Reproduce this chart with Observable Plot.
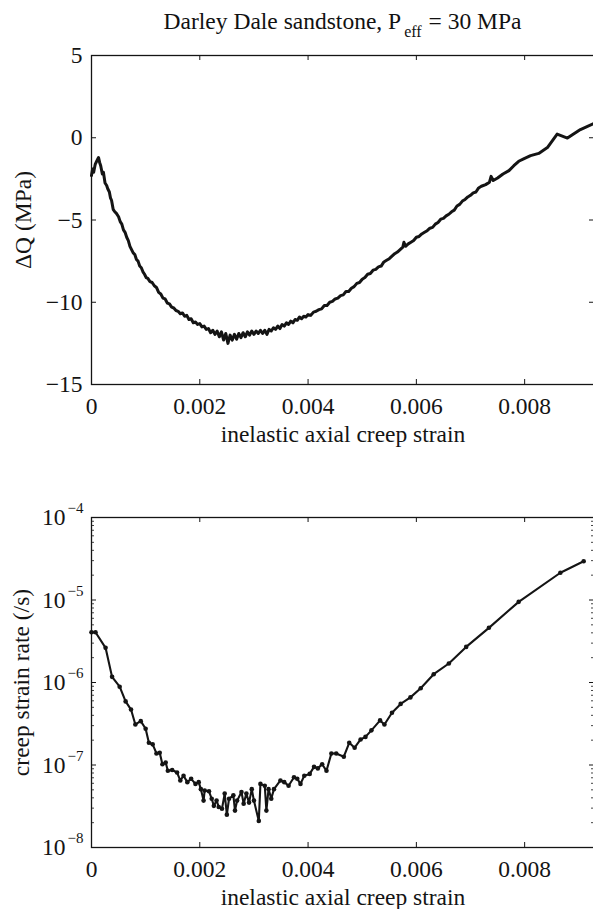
<!DOCTYPE html>
<html>
<head>
<meta charset="utf-8">
<script src="https://cdn.jsdelivr.net/npm/d3@7"></script>
<script src="https://cdn.jsdelivr.net/npm/@observablehq/plot@0.6"></script>
<style>
  html, body { margin: 0; padding: 0; background: #fff; overflow: hidden; }
  #wrap { position: relative; width: 593px; height: 909px; overflow: hidden; background: #fff; }
  #title { position: absolute; left: 91px; width: 503px; top: 10px; text-align: center;
           font-family: "Liberation Serif", "Times New Roman", serif; font-size: 23.5px; line-height: 23px; color: #111; white-space: nowrap; }
  #title .sub { font-size: 16px; position: relative; top: 8px; margin-left: 3px; margin-right: 1px; }
  #p1, #p2 { position: absolute; left: 0; }
  #p1 { top: 0; }
  #p2 { top: 460px; }
</style>
</head>
<body>
<div id="wrap">
  <div id="p1"></div>
  <div id="p2"></div>
  <div id="title">Darley Dale sandstone, P<span class="sub">eff</span> = 30 MPa</div>
</div>
<script>
// ---------- data ----------
const xTicks = [0, 0.002, 0.004, 0.006, 0.008];
const xTickLabels = ["0", "0.002", "0.004", "0.006", "0.008"];
const dqTicks = [-15, -10, -5, 0, 5];
const dqTickLabels = ["−15", "−10", "−5", "0", "5"];
const rateExponents = [-8, -7, -6, -5, -4];
const rateMinorMultipliers = [2, 3, 4, 5, 6, 7, 8, 9];

const xLabel = "inelastic axial creep strain";
const dqLabel = "ΔQ (MPa)";
const rateLabel = "creep strain rate (/s)";

// top panel: ΔQ vs inelastic strain
const strainQ = [0, 0.00002, 0.00004, 0.00007, 0.0001, 0.00013, 0.00015, 0.00017, 0.0002, 0.00022,
  0.00025, 0.00028, 0.0003, 0.00033, 0.00035, 0.00037, 0.0004, 0.00043, 0.00046, 0.0005,
  0.00053, 0.00056, 0.00059, 0.00062, 0.00065, 0.00068, 0.00071, 0.00074, 0.00077, 0.0008,
  0.00083, 0.00086, 0.00089, 0.00092, 0.00095, 0.00098, 0.00101, 0.00104, 0.00108, 0.00112,
  0.00116, 0.0012, 0.00124, 0.00128, 0.00132, 0.00136, 0.0014, 0.00144, 0.00148, 0.00152,
  0.00156, 0.0016, 0.00164, 0.00168, 0.00172, 0.00176, 0.0018, 0.00184, 0.00188, 0.00192,
  0.00196, 0.002, 0.00204, 0.00208, 0.00212, 0.00216, 0.0022, 0.00224, 0.00228, 0.00232,
  0.00236, 0.0024, 0.00244, 0.00248, 0.00252, 0.00256, 0.0026, 0.00264, 0.00268, 0.00272,
  0.00276, 0.0028, 0.00284, 0.00288, 0.00292, 0.00296, 0.003, 0.00304, 0.00308, 0.00312,
  0.00316, 0.0032, 0.00324, 0.00328, 0.00332, 0.00336, 0.0034, 0.00344, 0.00348, 0.00352,
  0.00356, 0.0036, 0.00364, 0.00368, 0.00372, 0.00376, 0.0038, 0.00384, 0.00388, 0.00392,
  0.00396, 0.004, 0.00405, 0.0041, 0.00415, 0.0042, 0.00425, 0.0043, 0.00435, 0.0044,
  0.00445, 0.0045, 0.00455, 0.0046, 0.00465, 0.0047, 0.00475, 0.0048, 0.00485, 0.0049,
  0.00495, 0.005, 0.00505, 0.0051, 0.00515, 0.0052, 0.00525, 0.0053, 0.00535, 0.0054,
  0.00545, 0.0055, 0.00555, 0.0056, 0.00565, 0.0057, 0.00575, 0.00577, 0.0058, 0.00585,
  0.0059, 0.00595, 0.006, 0.00605, 0.0061, 0.00615, 0.0062, 0.00625, 0.0063, 0.00635,
  0.0064, 0.00645, 0.0065, 0.00655, 0.0066, 0.00665, 0.0067, 0.00675, 0.0068, 0.00685,
  0.0069, 0.00695, 0.007, 0.00705, 0.0071, 0.00715, 0.0072, 0.00728, 0.00735, 0.00738,
  0.00742, 0.0075, 0.0076, 0.00771, 0.0078, 0.00789, 0.008, 0.00811, 0.00826, 0.00842,
  0.0086, 0.00879, 0.00903, 0.00928];
const deltaQ = [-2.3, -1.9, -2.1, -1.6, -1.4, -1.2, -1.5, -1.7, -2.2, -2.1,
  -2.75, -2.9, -3.1, -3.3, -3.65, -3.8, -4.35, -4.5, -4.6, -4.8,
  -5.1, -5.25, -5.6, -5.75, -6.05, -6.25, -6.6, -6.8, -7.0, -7.1,
  -7.4, -7.5, -7.8, -7.9, -8.15, -8.3, -8.5, -8.55, -8.75, -8.8,
  -9.0, -9.1, -9.4, -9.5, -9.75, -9.8, -10.05, -10.1, -10.3, -10.35,
  -10.5, -10.55, -10.7, -10.65, -10.85, -10.8, -11.05, -11.0, -11.25, -11.2,
  -11.35, -11.3, -11.5, -11.45, -11.65, -11.6, -11.85, -11.7, -11.95, -11.75,
  -12.1, -11.8, -12.3, -11.9, -12.5, -12.0, -12.3, -11.95, -12.25, -11.9,
  -12.15, -11.85, -12.1, -11.8, -12.0, -11.75, -11.95, -11.75, -11.9, -11.7,
  -11.9, -11.7, -11.95, -11.65, -11.75, -11.55, -11.65, -11.45, -11.6, -11.35,
  -11.45, -11.25, -11.35, -11.15, -11.25, -11.05, -11.1, -10.9, -11.0, -10.85,
  -10.9, -10.75, -10.8, -10.6, -10.55, -10.45, -10.4, -10.2, -10.2, -10.0,
  -9.95, -9.8, -9.75, -9.6, -9.55, -9.35, -9.35, -9.15, -9.05, -8.85,
  -8.8, -8.6, -8.5, -8.3, -8.25, -8.05, -8.0, -7.85, -7.8, -7.55,
  -7.45, -7.35, -7.2, -7.05, -6.95, -6.8, -6.65, -6.35, -6.6, -6.45,
  -6.35, -6.25, -6.05, -6.0, -5.85, -5.75, -5.65, -5.5, -5.45, -5.25,
  -5.15, -4.95, -4.9, -4.75, -4.65, -4.5, -4.4, -4.15, -4.05, -3.85,
  -3.75, -3.6, -3.5, -3.35, -3.3, -3.05, -2.95, -2.85, -2.7, -2.35,
  -2.6, -2.45, -2.2, -2.0, -1.7, -1.43, -1.25, -1.09, -0.95, -0.6,
  0.22, -0.02, 0.5, 0.87];

// bottom panel: creep strain rate vs inelastic strain
const strainR = [0, 0.000074, 0.00026, 0.00038, 0.00052, 0.00063, 0.00073, 0.00081, 0.00091, 0.001,
  0.00106, 0.00113, 0.0012, 0.00126, 0.00131, 0.00137, 0.00141, 0.00149, 0.00158, 0.00164,
  0.0017, 0.00177, 0.00184, 0.00192, 0.00198, 0.00202, 0.00207, 0.00209, 0.00217, 0.00222,
  0.00226, 0.00231, 0.00235, 0.00241, 0.00246, 0.0025, 0.00254, 0.00262, 0.00265, 0.00269,
  0.00277, 0.00281, 0.00286, 0.00291, 0.00296, 0.003, 0.00309, 0.00312, 0.0032, 0.00323,
  0.00327, 0.00332, 0.00337, 0.00349, 0.00356, 0.00364, 0.00374, 0.0038, 0.00386, 0.00393,
  0.00403, 0.00411, 0.00418, 0.00426, 0.00434, 0.00443, 0.00452, 0.00466, 0.00476, 0.00486,
  0.00497, 0.00506, 0.00517, 0.00533, 0.00541, 0.00555, 0.00571, 0.00589, 0.00608, 0.00632,
  0.0066, 0.00692, 0.00734, 0.00789, 0.00866, 0.00909];
const strainRate = [4.07e-6, 4.07e-6, 2.63e-6, 1.17e-6, 8.9e-7, 5.9e-7, 4.7e-7, 3.1e-7, 3.4e-7, 2.75e-7,
  1.86e-7, 1.78e-7, 1.38e-7, 1.41e-7, 1.02e-7, 1.07e-7, 8.5e-8, 8.7e-8, 8.1e-8, 6.5e-8,
  7.4e-8, 6.2e-8, 6.8e-8, 5.9e-8, 6.2e-8, 5.1e-8, 3.7e-8, 4.9e-8, 4.8e-8, 3.9e-8,
  3.2e-8, 3.7e-8, 3.1e-8, 2.95e-8, 4.5e-8, 2.5e-8, 3.9e-8, 4.3e-8, 2.8e-8, 3.7e-8,
  4.7e-8, 3.4e-8, 4.5e-8, 3.5e-8, 5.1e-8, 3.7e-8, 2.1e-8, 5.9e-8, 5.6e-8, 2.8e-8,
  5.1e-8, 3.9e-8, 5.1e-8, 6.5e-8, 6.2e-8, 5.6e-8, 7.1e-8, 6.8e-8, 5.9e-8, 7.4e-8,
  7.8e-8, 9.5e-8, 9.1e-8, 1.02e-7, 8.5e-8, 1.38e-7, 1.38e-7, 1.26e-7, 1.86e-7, 1.62e-7,
  2.04e-7, 2.19e-7, 2.63e-7, 3.47e-7, 3.1e-7, 4.3e-7, 5.5e-7, 6.6e-7, 8.5e-7, 1.26e-6,
  1.7e-6, 2.7e-6, 4.6e-6, 9.5e-6, 2.14e-5, 2.95e-5];

// ---------- layout ----------
const W = 594, ML = 91, MR = 0;
const innerW = W - ML - MR;
const ink = "#141414";
const FS = 23.5;
const font = {fontFamily: "'Liberation Serif', 'Times New Roman', serif", fontSize: FS + "px", color: ink, background: "transparent", maxWidth: "none", overflow: "visible"};
const TK = 5, TKm = 3;

const qData = strainQ.map((x, i) => ({x, y: deltaQ[i]}));
const rData = strainR.map((x, i) => ({x, y: strainRate[i]}));
const xFmt = d => xTickLabels[xTicks.indexOf(d)];

// top panel
{
  const H = 460, MT = 55, MB = 76;
  const innerH = H - MT - MB;
  const p = Plot.plot({
    width: W, height: H, marginLeft: ML, marginRight: MR, marginTop: MT, marginBottom: MB,
    style: font,
    x: {domain: [0, 0.00929], ticks: xTicks, tickFormat: xFmt, tickSize: 0, tickPadding: 13, label: null},
    y: {domain: [-15, 5], ticks: dqTicks, tickFormat: d => dqTickLabels[dqTicks.indexOf(d)], tickSize: 0, tickPadding: 9, label: null},
    marks: [
      Plot.line(qData, {x: "x", y: "y", stroke: ink, strokeWidth: 3, strokeLinejoin: "round"}),
      Plot.ruleX(xTicks, {x: d => d, insetTop: innerH - TK, stroke: ink, strokeWidth: 1}),
      Plot.ruleX(xTicks, {x: d => d, insetBottom: innerH - TK, stroke: ink, strokeWidth: 1}),
      Plot.ruleY(dqTicks, {y: d => d, insetRight: innerW - TK, stroke: ink, strokeWidth: 1}),
      Plot.ruleY(dqTicks, {y: d => d, insetLeft: innerW - TK, stroke: ink, strokeWidth: 1}),
      Plot.frame({stroke: ink, strokeWidth: 1.3}),
      Plot.text([xLabel], {frameAnchor: "bottom", lineAnchor: "bottom", textAnchor: "middle", dy: 57, fill: ink, fontSize: FS}),
      Plot.text([dqLabel], {frameAnchor: "left", lineAnchor: "middle", textAnchor: "middle", dx: -68, rotate: -90, fill: ink, fontSize: FS})
    ]
  });
  document.getElementById("p1").appendChild(p);
}

// bottom panel
{
  const H = 449, MT = 57, MB = 62;
  const innerH = H - MT - MB;
  const majors = rateExponents.map(e => Math.pow(10, e));
  const minors = rateExponents.slice(0, -1).flatMap(e => rateMinorMultipliers.map(m => m * Math.pow(10, e)));
  const p = Plot.plot({
    width: W, height: H, marginLeft: ML, marginRight: MR, marginTop: MT, marginBottom: MB,
    style: font,
    x: {domain: [0, 0.00929], ticks: xTicks, tickFormat: xFmt, tickSize: 0, tickPadding: 13, label: null},
    y: {type: "log", domain: [1e-8, 1e-4], axis: null},
    marks: [
      Plot.line(rData, {x: "x", y: "y", stroke: ink, strokeWidth: 2.1, strokeLinejoin: "round"}),
      Plot.dot(rData, {x: "x", y: "y", r: 2.3, fill: ink, stroke: null}),
      Plot.ruleX(xTicks, {x: d => d, insetTop: innerH - TK, stroke: ink, strokeWidth: 1}),
      Plot.ruleX(xTicks, {x: d => d, insetBottom: innerH - TK, stroke: ink, strokeWidth: 1}),
      Plot.ruleY(majors, {y: d => d, insetRight: innerW - TK, stroke: ink, strokeWidth: 1}),
      Plot.ruleY(majors, {y: d => d, insetLeft: innerW - TK, stroke: ink, strokeWidth: 1}),
      Plot.ruleY(minors, {y: d => d, insetRight: innerW - TKm, stroke: ink, strokeWidth: 0.8}),
      Plot.ruleY(minors, {y: d => d, insetLeft: innerW - TKm, stroke: ink, strokeWidth: 0.8}),
      Plot.frame({stroke: ink, strokeWidth: 1.3}),
      Plot.text(rateExponents, {y: e => Math.pow(10, e), frameAnchor: "left", text: () => "10", textAnchor: "end", lineAnchor: "middle", dx: -26, fill: ink, fontSize: FS}),
      Plot.text(rateExponents, {y: e => Math.pow(10, e), frameAnchor: "left", text: e => (e < 0 ? "−" : "") + Math.abs(e), textAnchor: "start", lineAnchor: "middle", dx: -24, dy: -9, fill: ink, fontSize: 15}),
      Plot.text([xLabel], {frameAnchor: "bottom", lineAnchor: "bottom", textAnchor: "middle", dy: 57, fill: ink, fontSize: FS}),
      Plot.text([rateLabel], {frameAnchor: "left", lineAnchor: "middle", textAnchor: "middle", dx: -70, rotate: -90, fill: ink, fontSize: FS})
    ]
  });
  document.getElementById("p2").appendChild(p);
}
</script>
</body>
</html>
